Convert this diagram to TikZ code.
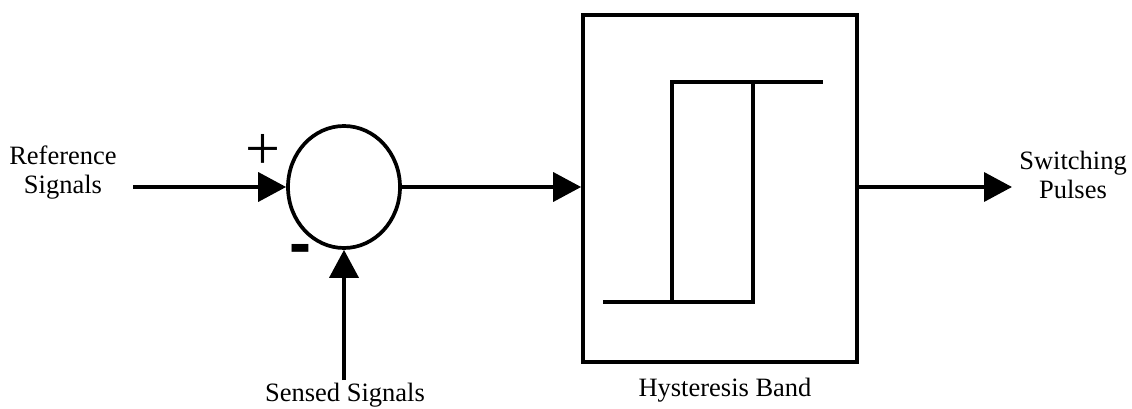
\documentclass[tikz,border=0pt]{standalone}
\usepackage{fontspec}
\setmainfont{Liberation Serif}
\setsansfont{Liberation Sans}
\usetikzlibrary{positioning}
\usetikzlibrary{arrows.meta}
\usetikzlibrary{shapes.geometric}

\begin{document}
\begin{tikzpicture}[x=1pt, y=-1pt, line width=3.7pt,
    >={Triangle[length=28pt, width=29pt]},
    lbl/.style={font=\fontsize{26.5}{29}\selectfont, align=center, inner sep=0pt},
    sig/.style={->, line width=3.7pt}]
      \useasboundingbox (0,0) rectangle (1132,409);

      % summing junction and hysteresis block
      \node[ellipse, draw, minimum width=112pt, minimum height=122pt, inner sep=0pt] (sum) at (344,187) {};
      \node[draw, minimum width=274pt, minimum height=347pt, inner sep=0pt] (hyst) at (720,188.5) {};

      % hysteresis loop
      \draw (603,302) -- (753,302) -- (753,82);
      \draw (672,302) -- (672,82) -- (823,82);

      % labels
      \node[lbl] (refsig) at (63,173) {Reference\\Signals};
      \node[lbl] (sensed) at (345,395) {Sensed Signals};
      \node[lbl] (hystlbl) at (725,390) {Hysteresis Band};
      \node[lbl] (pulses) at (1073,175) {Switching\\Pulses};
      \node[font=\fontsize{62}{62}\selectfont, inner sep=0pt] (plus) at (263,152) {+};
      \node[font=\sffamily\bfseries\fontsize{66}{66}\selectfont, inner sep=0pt] (minus) at (300,255) {-};

      % signal paths
      \coordinate (refin) at (133,187);
      \coordinate (sensin) at (344,380);
      \coordinate (outtip) at (1012,187);
      \draw[sig] (refin) -- (sum.west);
      \draw[sig] (sensin) -- (sum.south);
      \draw[sig] (sum.east) -- (sum.east -| hyst.west);
      \draw[sig] (sum.east -| hyst.east) -- (outtip);
    \end{tikzpicture}
\end{document}
